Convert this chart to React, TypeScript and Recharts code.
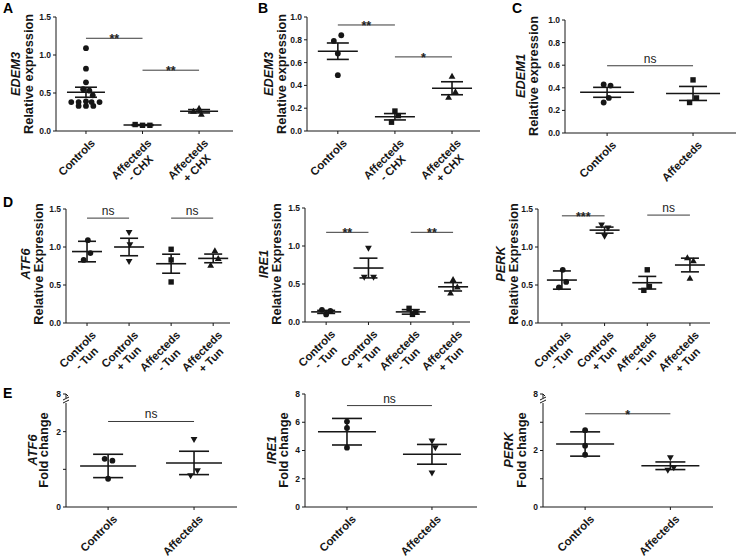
import React from 'react';
import { ScatterChart, Scatter, XAxis, YAxis, ErrorBar, ReferenceLine } from 'recharts';

const INK = '#161616';
const FONT = '"Liberation Sans", Arial, Helvetica, sans-serif';

type Pt = [number, number]; // [jitter offset in category units, value]
type Kind = 'circle' | 'square' | 'triUp' | 'triDown';
type Sig = [number, number, number, string]; // from category, to category, height, text

// ---------- A: EDEM3, cycloheximide ----------
const catsA = ['Controls', 'Affecteds\n- CHX', 'Affecteds\n+ CHX'];
const a_controls: Pt[] = [
  [0, 1.09], [0, 0.82], [0, 0.64], [-0.05, 0.55], [0.06, 0.53], [0.12, 0.47],
  [-0.26, 0.38], [-0.13, 0.38], [0, 0.39], [0.1, 0.38], [0.24, 0.38],
  [-0.13, 0.33], [0, 0.33], [0.13, 0.33],
];
const a_affMinus: Pt[] = [[-0.13, 0.085], [0, 0.075], [0.13, 0.075]];
const a_affPlus: Pt[] = [[0, 0.3], [-0.1, 0.26], [0.04, 0.22]];
const meansA = [0.51, 0.078, 0.26];
const semsA = [0.066, 0.006, 0.022];
const sigA: Sig[] = [[1, 2, 1.22, '**'], [2, 3, 0.8, '**']];
const yTicksA = [0, 0.5, 1, 1.5];
const yLabelsA = ['0.0', '0.5', '1.0', '1.5'];

// ---------- B: EDEM3, cycloheximide ----------
const catsB = ['Controls', 'Affecteds\n- CHX', 'Affecteds\n+ CHX'];
const b_controls: Pt[] = [[-0.07, 0.79], [0.06, 0.84], [0, 0.68], [0, 0.49]];
const b_affMinus: Pt[] = [[0, 0.175], [0.06, 0.135], [-0.06, 0.077]];
const b_affPlus: Pt[] = [[0, 0.48], [0.06, 0.345], [-0.06, 0.295]];
const meansB = [0.7, 0.125, 0.375];
const semsB = [0.072, 0.028, 0.057];
const sigB: Sig[] = [[1, 2, 0.93, '**'], [2, 3, 0.65, '*']];
const yTicksB = [0, 0.2, 0.4, 0.6, 0.8, 1.0];
const yLabelsB = ['0.0', '0.2', '0.4', '0.6', '0.8', '1.0'];

// ---------- C: EDEM1 ----------
const catsC = ['Controls', 'Affecteds'];
const c_controls: Pt[] = [[-0.04, 0.43], [0.04, 0.42], [0.02, 0.31], [-0.04, 0.27]];
const c_affecteds: Pt[] = [[0, 0.47], [0.04, 0.31], [-0.04, 0.27]];
const meansC = [0.36, 0.35];
const semsC = [0.044, 0.062];
const sigC: Sig[] = [[1, 2, 0.595, 'ns']];

// ---------- D: tunicamycin ----------
const catsD = ['Controls\n- Tun', 'Controls\n+ Tun', 'Affecteds\n- Tun', 'Affecteds\n+ Tun'];
const yTicksD = [0, 0.5, 1, 1.5];
const yLabelsD = ['0.0', '0.5', '1.0', '1.5'];

const atf6D: Pt[][] = [
  [[0.02, 1.09], [0.08, 0.92], [-0.08, 0.83]],
  [[0, 1.19], [0.02, 1.03], [0, 0.81]],
  [[0, 0.97], [0, 0.83], [0, 0.54]],
  [[0.04, 0.95], [0.12, 0.85], [-0.06, 0.76]],
];
const atf6DMeans = [0.94, 1.0, 0.78, 0.85];
const atf6DSems = [0.135, 0.115, 0.125, 0.057];
const atf6DSig: Sig[] = [[1, 2, 1.38, 'ns'], [3, 4, 1.38, 'ns']];

const ire1D: Pt[][] = [
  [[-0.1, 0.16], [0.1, 0.145], [0, 0.1]],
  [[0, 0.97], [-0.1, 0.59], [0.12, 0.59]],
  [[-0.04, 0.18], [0.12, 0.13], [0.04, 0.1]],
  [[0, 0.56], [0.1, 0.46], [-0.06, 0.38]],
];
const ire1DMeans = [0.133, 0.71, 0.133, 0.463];
const ire1DSems = [0.02, 0.13, 0.03, 0.055];
const ire1DSig: Sig[] = [[1, 2, 1.18, '**'], [3, 4, 1.18, '**']];

const perkD: Pt[][] = [
  [[0.02, 0.7], [0.1, 0.54], [-0.07, 0.47]],
  [[-0.07, 1.29], [0.08, 1.25], [0, 1.14]],
  [[0, 0.7], [0.05, 0.48], [-0.08, 0.43]],
  [[-0.06, 0.86], [0.08, 0.82], [0, 0.59]],
];
const perkDMeans = [0.565, 1.222, 0.53, 0.763];
const perkDSems = [0.12, 0.04, 0.083, 0.09];
const perkDSig: Sig[] = [[1, 2, 1.41, '***'], [3, 4, 1.42, 'ns']];

// ---------- E: fold change ----------
const catsE = ['Controls', 'Affecteds'];

const atf6E: Pt[][] = [
  [[-0.04, 1.28], [0.05, 1.23], [0, 0.75]],
  [[0, 1.79], [0.04, 0.96], [-0.04, 0.83]],
];
const atf6EMeans = [1.09, 1.17];
const atf6ESems = [0.31, 0.31];
const atf6ESig: Sig[] = [[1, 2, 2.27, 'ns']];
const atf6ETicks = [0, 1, 2, 3];
const atf6ELabels = ['0', '', '2', '8'];

const ire1E: Pt[][] = [
  [[0, 6.05], [0, 5.6], [0, 4.2]],
  [[0, 4.68], [0.04, 4.2], [0, 2.4]],
];
const ire1EMeans = [5.33, 3.73];
const ire1ESems = [0.94, 0.7];
const ire1ESig: Sig[] = [[1, 2, 7.18, 'ns']];
const ire1ETicks = [0, 2, 4, 6, 8];
const ire1ELabels = ['0', '2', '4', '6', '8'];

const perkE: Pt[][] = [
  [[0, 2.72], [0, 2.17], [0, 1.85]],
  [[0, 1.74], [0.04, 1.39], [-0.03, 1.3]],
];
const perkEMeans = [2.23, 1.46];
const perkESems = [0.43, 0.135];
const perkESig: Sig[] = [[1, 2, 3.3, '*']];
const perkETicks = [0, 1, 2, 3, 4];
const perkELabels = ['0', '', '2', '', '8'];

// ---------- helpers ----------
let measureCtx: CanvasRenderingContext2D | null = null;
function textWidth(s: string, font: string) {
  if (!measureCtx) measureCtx = document.createElement('canvas').getContext('2d');
  if (!measureCtx) return s.length * 6;
  measureCtx.font = font;
  return measureCtx.measureText(s).width;
}

function Marker({ cx, cy, kind }: { cx: number; cy: number; kind: Kind }) {
  if (cx == null || cy == null) return null;
  if (kind === 'square') return <rect x={cx - 2.7} y={cy - 2.7} width={5.4} height={5.4} fill={INK} />;
  if (kind === 'triUp')
    return <path d={`M${cx},${cy - 3.5}L${cx + 3.4},${cy + 2.5}L${cx - 3.4},${cy + 2.5}Z`} fill={INK} />;
  if (kind === 'triDown')
    return <path d={`M${cx},${cy + 3.5}L${cx + 3.4},${cy - 2.5}L${cx - 3.4},${cy - 2.5}Z`} fill={INK} />;
  return <circle cx={cx} cy={cy} r={2.9} fill={INK} />;
}

function CatTick({ x, y, payload, cats }: any) {
  const label: string = cats[Math.round(payload.value) - 1] ?? '';
  const lines = label.split('\n');
  const fs = 11.3;
  const font = `bold ${fs}px "Liberation Sans"`;
  const w = Math.max(...lines.map((l) => textWidth(l, font)));
  return (
    <g transform={`translate(${x + 4},${y + 2}) rotate(-45)`}>
      {lines.map((l, i) => (
        <text
          key={i}
          x={-w / 2}
          y={fs * 0.72 + i * fs * 1.12}
          textAnchor="middle"
          fontSize={fs}
          fontWeight="bold"
          fontFamily={FONT}
          fill={INK}
        >
          {l}
        </text>
      ))}
    </g>
  );
}

function ValTick({ x, y, payload, ticks, labels, breakAt }: any) {
  const idx = ticks.indexOf(payload.value);
  const ax = x + 5;
  return (
    <g>
      <text x={x} y={y} dy="0.35em" textAnchor="end" fontSize={8.5} fontWeight="bold" fontFamily={FONT} fill={INK}>
        {labels[idx] ?? ''}
      </text>
      {breakAt === payload.value && (
        <g stroke={INK} strokeWidth={1}>
          <rect x={ax - 2} y={y + 4} width={4} height={5} fill="#fff" stroke="none" />
          <line x1={ax} y1={y} x2={ax + 2} y2={y + 2} />
          <line x1={ax - 3} y1={y + 6} x2={ax + 3} y2={y + 3} />
          <line x1={ax - 3} y1={y + 9} x2={ax + 3} y2={y + 6} />
        </g>
      )}
    </g>
  );
}

function SigText({ viewBox, text }: any) {
  if (!viewBox) return null;
  const stars = text.includes('*');
  return (
    <text
      x={viewBox.x + viewBox.width / 2}
      y={viewBox.y + (stars ? 5 : -3)}
      textAnchor="middle"
      fontSize={stars ? 12.5 : 12}
      fontWeight={stars ? 'bold' : 'normal'}
      fontFamily={FONT}
      fill="#222"
    >
      {text}
    </text>
  );
}

interface PanelProps {
  box: [number, number, number, number];
  plot: [number, number, number, number];
  xDomain: [number, number];
  yDomain: [number, number];
  cats: string[];
  groups: Pt[][];
  kinds: Kind[];
  means: number[];
  sems: number[];
  sigs: Sig[];
  yTicks: number[];
  yLabels: string[];
  meanHalf: number;
  capHalf: number;
  breakAt?: number;
}

function Panel(p: PanelProps) {
  const [x0, y0, w, h] = p.box;
  const [L, R, T, B] = p.plot;
  const meanData = p.means.map((m, i) => ({ x: i + 1, y: m, e: p.sems[i] }));
  return (
    <div style={{ position: 'absolute', left: x0, top: y0 }}>
      <ScatterChart width={w} height={h} margin={{ top: T - y0, right: x0 + w - R, bottom: 0, left: 0 }}>
        <XAxis
          type="number"
          dataKey="x"
          scale="linear"
          domain={p.xDomain}
          ticks={p.cats.map((_, i) => i + 1)}
          interval={0}
          allowDataOverflow
          height={y0 + h - B}
          tickSize={3}
          stroke={INK}
          tick={(t: any) => <CatTick {...t} cats={p.cats} />}
        />
        <YAxis
          type="number"
          dataKey="y"
          domain={p.yDomain}
          ticks={p.yTicks}
          interval={0}
          allowDataOverflow
          width={L - x0}
          tickSize={3}
          stroke={INK}
          tick={(t: any) => <ValTick {...t} ticks={p.yTicks} labels={p.yLabels} breakAt={p.breakAt} />}
        />
        {p.sigs.map(([a, b, yv, txt], i) => (
          <ReferenceLine
            key={'sig' + i}
            segment={[{ x: a, y: yv }, { x: b, y: yv }]}
            stroke="#3a3a3a"
            strokeWidth={1}
            label={(lp: any) => <SigText viewBox={lp.viewBox} text={txt} />}
          />
        ))}
        {p.groups.map((g, i) => (
          <Scatter
            key={'grp' + i}
            data={g.map(([dx, v]) => ({ x: i + 1 + dx, y: v }))}
            isAnimationActive={false}
            shape={(s: any) => <Marker cx={s.cx} cy={s.cy} kind={p.kinds[i]} />}
          />
        ))}
        <Scatter
          data={meanData}
          isAnimationActive={false}
          shape={(s: any) => (
            <line x1={s.cx - p.meanHalf} x2={s.cx + p.meanHalf} y1={s.cy} y2={s.cy} stroke={INK} strokeWidth={1.6} />
          )}
        >
          <ErrorBar dataKey="e" direction="y" width={p.capHalf} stroke={INK} strokeWidth={1.6} isAnimationActive={false} />
        </Scatter>
      </ScatterChart>
    </div>
  );
}

const kinds3: Kind[] = ['circle', 'square', 'triUp'];
const kinds2: Kind[] = ['circle', 'square'];
const kindsD: Kind[] = ['circle', 'triDown', 'square', 'triUp'];
const kindsE: Kind[] = ['circle', 'triDown'];

const PANELS: PanelProps[] = [
  {
    box: [0, 0, 240, 190], plot: [56, 233, 17, 131], xDomain: [0.47, 3.6], yDomain: [0, 1.5],
    cats: catsA, groups: [a_controls, a_affMinus, a_affPlus], kinds: kinds3, means: meansA, sems: semsA,
    sigs: sigA, yTicks: yTicksA, yLabels: yLabelsA, meanHalf: 19, capHalf: 11,
  },
  {
    box: [240, 0, 245, 190], plot: [307, 480, 17, 131], xDomain: [0.46, 3.49], yDomain: [0, 1],
    cats: catsB, groups: [b_controls, b_affMinus, b_affPlus], kinds: kinds3, means: meansB, sems: semsB,
    sigs: sigB, yTicks: yTicksB, yLabels: yLabelsB, meanHalf: 20, capHalf: 11,
  },
  {
    box: [480, 0, 257, 190], plot: [565, 736, 20, 133], xDomain: [0.51, 2.5], yDomain: [0, 1],
    cats: catsC, groups: [c_controls, c_affecteds], kinds: kinds2, means: meansC, sems: semsC,
    sigs: sigC, yTicks: yTicksB, yLabels: yLabelsB, meanHalf: 27, capHalf: 14,
  },
  {
    box: [0, 190, 240, 190], plot: [66, 230, 209, 323], xDomain: [0.5, 4.4], yDomain: [0, 1.5],
    cats: catsD, groups: atf6D, kinds: kindsD, means: atf6DMeans, sems: atf6DSems,
    sigs: atf6DSig, yTicks: yTicksD, yLabels: yLabelsD, meanHalf: 15, capHalf: 9,
  },
  {
    box: [240, 190, 240, 190], plot: [305, 470, 208, 322], xDomain: [0.5, 4.4], yDomain: [0, 1.5],
    cats: catsD, groups: ire1D, kinds: kindsD, means: ire1DMeans, sems: ire1DSems,
    sigs: ire1DSig, yTicks: yTicksD, yLabels: yLabelsD, meanHalf: 15, capHalf: 9,
  },
  {
    box: [480, 190, 257, 190], plot: [538, 710, 209, 323], xDomain: [0.44, 4.47], yDomain: [0, 1.5],
    cats: catsD, groups: perkD, kinds: kindsD, means: perkDMeans, sems: perkDSems,
    sigs: perkDSig, yTicks: yTicksD, yLabels: yLabelsD, meanHalf: 15, capHalf: 9,
  },
  {
    box: [0, 380, 240, 179], plot: [66, 237, 394, 507], xDomain: [0.51, 2.5], yDomain: [0, 3],
    cats: catsE, groups: atf6E, kinds: kindsE, means: atf6EMeans, sems: atf6ESems,
    sigs: atf6ESig, yTicks: atf6ETicks, yLabels: atf6ELabels, meanHalf: 28, capHalf: 15, breakAt: 3,
  },
  {
    box: [240, 380, 240, 179], plot: [305, 477, 394, 507], xDomain: [0.506, 2.53], yDomain: [0, 8],
    cats: catsE, groups: ire1E, kinds: kindsE, means: ire1EMeans, sems: ire1ESems,
    sigs: ire1ESig, yTicks: ire1ETicks, yLabels: ire1ELabels, meanHalf: 29, capHalf: 15,
  },
  {
    box: [480, 380, 257, 179], plot: [543, 713, 394, 507], xDomain: [0.506, 2.5], yDomain: [0, 4],
    cats: catsE, groups: perkE, kinds: kindsE, means: perkEMeans, sems: perkESems,
    sigs: perkESig, yTicks: perkETicks, yLabels: perkELabels, meanHalf: 29, capHalf: 15, breakAt: 4,
  },
];

// gene, axis title, x of gene line, x of title line, vertical centre
const TITLES: [string, string, number, number, number][] = [
  ['EDEM3', 'Relative expression', 15.5, 28, 74],
  ['EDEM3', 'Relative expression', 268, 281, 74],
  ['EDEM1', 'Relative expression', 520, 533, 76],
  ['ATF6', 'Relative Expression', 25, 38, 264],
  ['IRE1', 'Relative Expression', 263, 276, 264],
  ['PERK', 'Relative Expression', 500, 513, 264],
  ['ATF6', 'Fold change', 32, 43, 450],
  ['IRE1', 'Fold change', 271, 283, 450],
  ['PERK', 'Fold change', 508, 521, 450],
];

const LETTERS: [string, number, number][] = [
  ['A', 3, 12.5], ['B', 258, 12.5], ['C', 512, 12.5], ['D', 3, 207], ['E', 3, 398],
];

export default function App() {
  return (
    <div style={{ position: 'absolute', left: 0, top: 0, width: 737, height: 559, background: '#fff', fontFamily: FONT }}>
      {PANELS.map((p, i) => (
        <Panel key={i} {...p} />
      ))}
      <svg width={737} height={559} style={{ position: 'absolute', left: 0, top: 0, pointerEvents: 'none' }}>
        {TITLES.map(([gene, title, gx, tx, cy], i) => (
          <g key={i} fontFamily={FONT} fontSize={12.8} fill={INK}>
            <text transform={`translate(${gx},${cy}) rotate(-90)`} textAnchor="middle" dominantBaseline="central" fontStyle="italic" fontWeight="bold">
              {gene}
            </text>
            <text transform={`translate(${tx},${cy}) rotate(-90)`} textAnchor="middle" dominantBaseline="central" fontWeight="bold">
              {title}
            </text>
          </g>
        ))}
        {LETTERS.map(([l, x, y]) => (
          <text key={l} x={x} y={y} fontFamily={FONT} fontSize={14} fontWeight="bold" fill="#000">
            {l}
          </text>
        ))}
      </svg>
    </div>
  );
}
